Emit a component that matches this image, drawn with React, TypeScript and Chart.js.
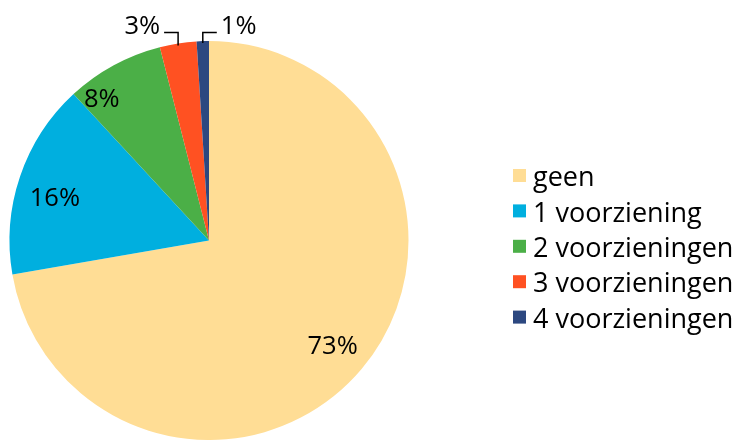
import React, { useEffect, useRef } from "react";
import { Chart, registerables } from "chart.js";

Chart.register(...registerables);

const categories = ["geen", "1 voorziening", "2 voorzieningen", "3 voorzieningen", "4 voorzieningen"];
const values = [73, 16, 8, 3, 1];
const percentLabels = ["73%", "16%", "8%", "3%", "1%"];
const colors = ["#FFDD95", "#00AFDF", "#4BAF47", "#FF5122", "#2C4880"];

const FONT = "'Open Sans', sans-serif";

const labelPlugin = {
  id: "pieLabels",
  afterDatasetsDraw(chart: any) {
    const ctx = chart.ctx;
    const meta = chart.getDatasetMeta(0);
    const insideRadius = [0.81, 0.8, 0.8];
    const insideOffset = [[0, 0], [-3, 7], [-31, -3]];
    ctx.save();
    ctx.font = `25.5px ${FONT}`;
    ctx.fillStyle = "#000";
    meta.data.forEach((arc: any, i: number) => {
      const { x, y, startAngle, endAngle, outerRadius } = arc.getProps(
        ["x", "y", "startAngle", "endAngle", "outerRadius"],
        true
      );
      const mid = (startAngle + endAngle) / 2;
      const text = percentLabels[i];
      if (i < 3) {
        const f = insideRadius[i];
        const [ox, oy] = insideOffset[i];
        ctx.textAlign = "center";
        ctx.textBaseline = "alphabetic";
        ctx.fillText(
          text,
          x + Math.cos(mid) * outerRadius * f + ox,
          y + Math.sin(mid) * outerRadius * f + oy + 9.5
        );
      } else {
        const px = x + Math.cos(mid) * outerRadius;
        const py = y + Math.sin(mid) * outerRadius + 2;
        const ly = y - outerRadius - 8.5;
        const dir = i === 3 ? -1 : 1;
        const hx = px + dir * 14;
        ctx.strokeStyle = "#000";
        ctx.lineWidth = 1.5;
        ctx.beginPath();
        ctx.moveTo(px, py);
        ctx.lineTo(px, ly);
        ctx.lineTo(hx, ly);
        ctx.stroke();
        ctx.textAlign = dir < 0 ? "right" : "left";
        ctx.textBaseline = "alphabetic";
        ctx.fillText(text, hx + dir * 4, ly + 1.5);
      }
    });
    ctx.restore();
  },
};

const legendPlugin = {
  id: "sideLegend",
  afterDraw(chart: any) {
    const ctx = chart.ctx;
    const x0 = 513;
    const y0 = 175.5;
    const step = 35.4;
    const box = 13;
    ctx.save();
    ctx.font = `27px ${FONT}`;
    ctx.textAlign = "left";
    ctx.textBaseline = "alphabetic";
    categories.forEach((c, i) => {
      const cy = y0 + i * step;
      ctx.fillStyle = colors[i];
      ctx.fillRect(x0, cy - box / 2, box, box);
      ctx.fillStyle = "#000";
      ctx.fillText(c, x0 + 20, cy + 10.6);
    });
    ctx.restore();
  },
};

export default function App() {
  const ref = useRef<HTMLCanvasElement>(null);
  useEffect(() => {
    if (!ref.current) return;
    const chart = new Chart(ref.current, {
      type: "pie",
      data: {
        labels: categories,
        datasets: [
          {
            data: values,
            backgroundColor: colors,
            borderWidth: 0,
          },
        ],
      },
      options: {
        responsive: false,
        animation: false,
        layout: { padding: { left: 9, top: 41, right: 331, bottom: 0 } },
        plugins: {
          legend: { display: false },
          tooltip: { enabled: false },
        },
      },
      plugins: [labelPlugin, legendPlugin],
    });
    return () => chart.destroy();
  }, []);
  return (
    <div style={{ position: "fixed", left: 0, top: 0, width: 740, height: 440, background: "#fff" }}>
      <canvas ref={ref} width={740} height={440} style={{ width: 740, height: 440 }} />
    </div>
  );
}
